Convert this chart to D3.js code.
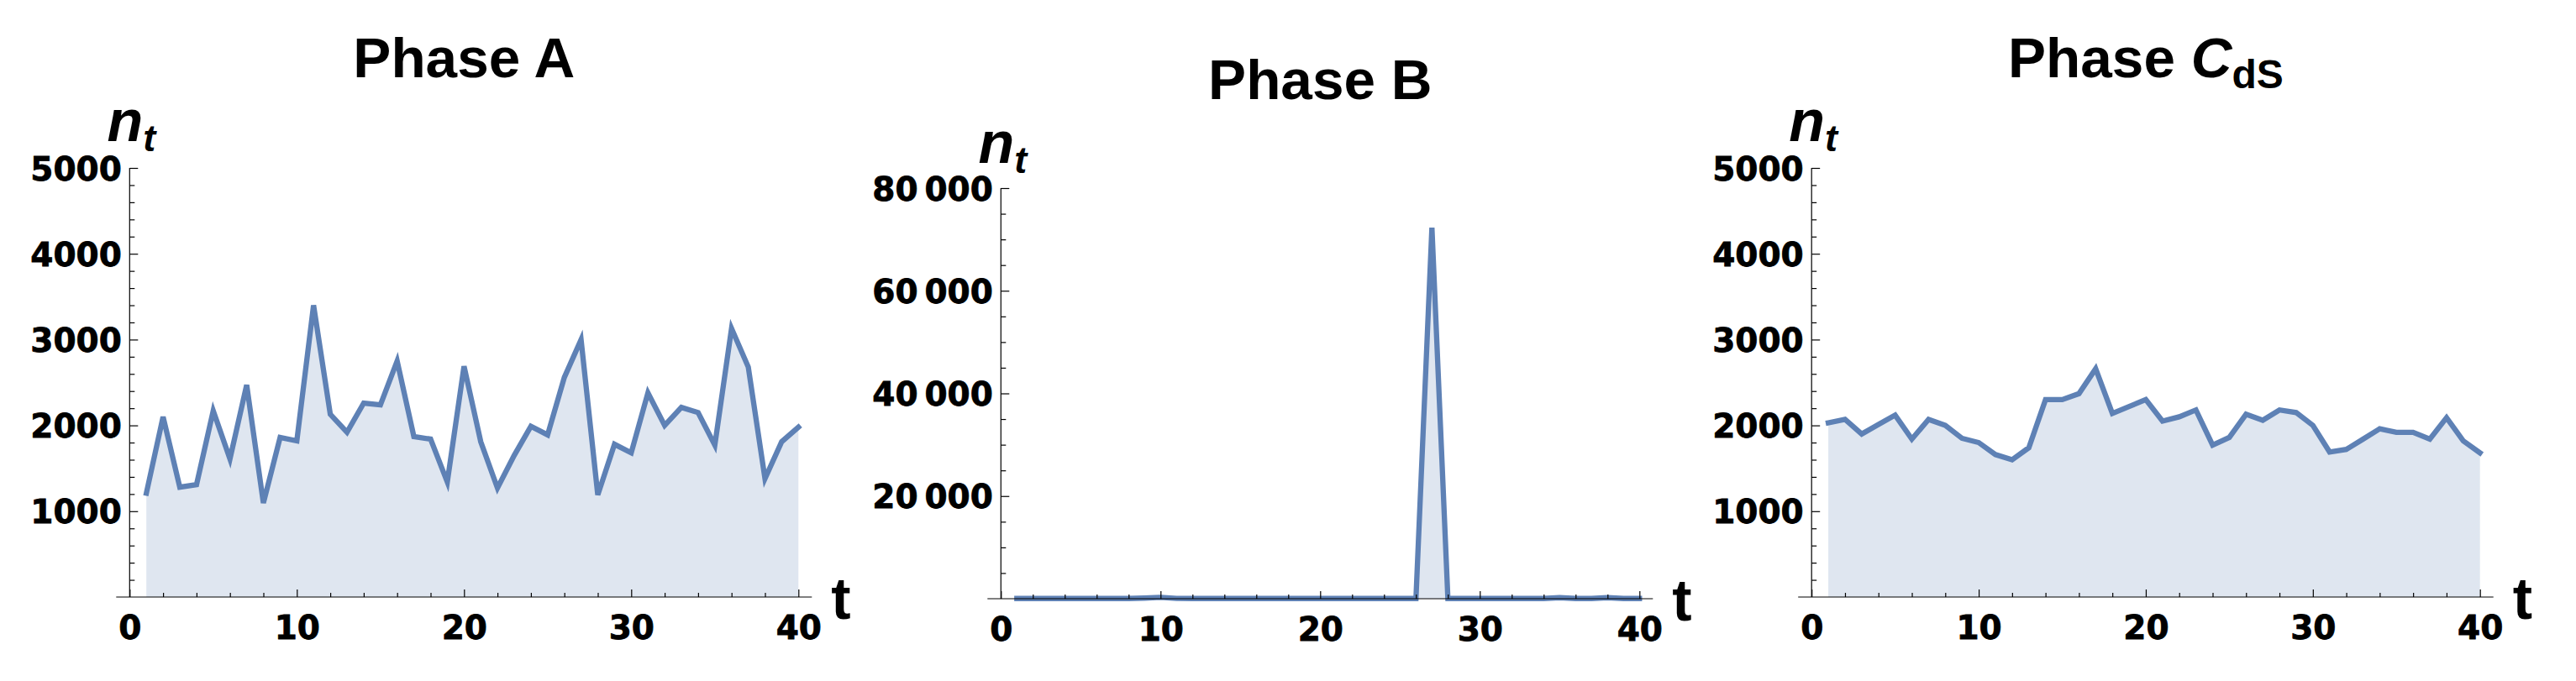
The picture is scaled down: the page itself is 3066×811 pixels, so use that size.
<!DOCTYPE html>
<html><head><meta charset="utf-8">
<script src="https://cdn.jsdelivr.net/npm/d3@7"></script>
<style>body{margin:0;background:#fff}svg{display:block}</style>
</head><body>
<svg id="c" width="3066" height="811"></svg>
<script>
// ---- data ----
const tValues = [1,2,3,4,5,6,7,8,9,10,11,12,13,14,15,16,17,18,19,20,21,22,23,24,25,26,27,28,29,30,31,32,33,34,35,36,37,38,39,40];
const phaseA = [1210,2100,1280,1310,2170,1610,2470,1095,1860,1820,3400,2130,1920,2260,2240,2750,1870,1840,1340,2690,1810,1270,1650,1990,1890,2560,3000,1190,1780,1680,2380,2000,2210,2150,1770,3130,2680,1380,1810,1980];
const phaseB = [40,40,40,40,40,40,40,40,120,260,60,40,40,40,40,40,40,40,40,40,40,40,40,40,40,40,72300,40,40,40,40,40,40,40,200,40,40,200,40,40];
const phaseC = [2030,2070,1900,2010,2120,1840,2070,2000,1850,1800,1660,1600,1740,2300,2300,2370,2660,2140,2220,2300,2050,2100,2180,1770,1860,2130,2060,2180,2150,2000,1690,1720,1840,1960,1920,1920,1840,2090,1820,1680];
const xTicks = [0,10,20,30,40];
const xTickLabels = ["0","10","20","30","40"];
const xMinorTicks = [2,4,6,8,12,14,16,18,22,24,26,28,32,34,36,38];
const yTicksAC = [1000,2000,3000,4000,5000];
const yTickLabelsAC = ["1000","2000","3000","4000","5000"];
const yTicksB = [20000,40000,60000,80000];
const yTickLabelsB = ["20\u2009000","40\u2009000","60\u2009000","80\u2009000"];
const titleText = ["Phase A","Phase B","Phase C"];

// ---- layout / style ----
const LINE = "#5e81b5", FILL = "#dfe6f0";
const TICKFONT = "'DejaVu Sans', sans-serif";
const LABFONT = "'Liberation Sans', Arial, sans-serif";

function yMinors(max, step, majors){
  const out=[]; for(let v=step; v<max+1e-9; v+=step){ if(!majors.includes(Math.round(v))) out.push(Math.round(v)); } return out;
}

const panels = [
  {data: phaseA, left:154.3, right:950.3, top:200, bottom:711, yMax:5000, yTicks:yTicksAC, yLabels:yTickLabelsAC, minorStep:200, title:0, titleY:92, ntY:168},
  {data: phaseB, left:1191.3, right:1951.3, top:224, bottom:713, yMax:80000, yTicks:yTicksB, yLabels:yTickLabelsB, minorStep:5000, title:1, titleY:118, ntY:194},
  {data: phaseC, left:2156.2, right:2951.7, top:200, bottom:711, yMax:5000, yTicks:yTicksAC, yLabels:yTickLabelsAC, minorStep:200, title:2, titleY:92, ntY:168}
];

const svg = d3.select("#c");
svg.append("rect").attr("width",3066).attr("height",811).attr("fill","#fff");

panels.forEach((p,i)=>{
  const x = d3.scaleLinear().domain([0,40]).range([p.left,p.right]);
  const y = d3.scaleLinear().domain([0,p.yMax]).range([p.bottom,p.top]);
  const g = svg.append("g");
  const pts = tValues.map((t,k)=>[t,p.data[k]]);

  // fill
  g.append("path").datum(pts)
    .attr("d", d3.area().x(d=>x(d[0])).y0(y(0)).y1(d=>y(d[1])))
    .attr("fill", FILL);
  // line
  g.append("path").datum(pts)
    .attr("d", d3.line().x(d=>x(d[0])).y(d=>y(d[1])))
    .attr("fill","none").attr("stroke",LINE).attr("stroke-width",6.3)
    .attr("stroke-linejoin","miter").attr("stroke-linecap","square");

  // axes lines
  g.append("line").attr("x1",p.left-16).attr("x2",p.right+16).attr("y1",y(0)).attr("y2",y(0))
    .attr("stroke","#000").attr("stroke-width",1.2);
  g.append("line").attr("x1",p.left).attr("x2",p.left).attr("y1",y(0)).attr("y2",y(p.yMax))
    .attr("stroke","#000").attr("stroke-width",1.2);

  // x axis major
  const xa = g.append("g").attr("transform",`translate(0,${y(0)})`)
    .call(d3.axisBottom(x).tickValues(xTicks).tickFormat((d,k)=>xTickLabels[k]).tickSizeInner(-9).tickSizeOuter(0).tickPadding(39));
  // x axis minor
  const xm = g.append("g").attr("transform",`translate(0,${y(0)})`)
    .call(d3.axisBottom(x).tickValues(xMinorTicks).tickFormat("").tickSizeInner(-5).tickSizeOuter(0));
  // y axis major
  const ya = g.append("g").attr("transform",`translate(${p.left},0)`)
    .call(d3.axisLeft(y).tickValues(p.yTicks).tickFormat((d,k)=>p.yLabels[k]).tickSizeInner(-10).tickSizeOuter(0).tickPadding(9.5));
  const ym = g.append("g").attr("transform",`translate(${p.left},0)`)
    .call(d3.axisLeft(y).tickValues(yMinors(p.yMax,p.minorStep,p.yTicks)).tickFormat("").tickSizeInner(-6).tickSizeOuter(0));
  [xa,xm,ya,ym].forEach(a=>{
    a.select(".domain").remove();
    a.selectAll(".tick line").attr("stroke","#000").attr("stroke-width",1.2);
    a.selectAll(".tick text").attr("fill","#000").attr("font-family",TICKFONT)
      .attr("font-weight","bold").attr("font-size",39)
      .attr("stroke","#000").attr("stroke-width",0.8);
  });
  xa.selectAll(".tick text").attr("dy",null).attr("y",50).attr("dominant-baseline",null);
  ya.selectAll(".tick text").attr("dy","0.36em");

  // axis labels
  const nt = g.append("text").attr("x",p.left+2).attr("y",p.ntY).attr("text-anchor","middle")
    .attr("font-family",LABFONT).attr("font-weight","bold").attr("font-style","italic").attr("fill","#000");
  nt.append("tspan").attr("font-size",70).text("n");
  nt.append("tspan").attr("font-size",45).attr("dy",12).text("t");
  g.append("text").attr("x",p.right+39).attr("y",y(0)+26).attr("font-family",LABFONT)
    .attr("font-weight","bold").attr("font-size",70).attr("fill","#000").text("t");

  // title
  const tt = g.append("text").attr("x",(p.left+p.right)/2).attr("y",p.titleY).attr("text-anchor","middle")
    .attr("font-family",LABFONT).attr("font-weight","bold").attr("font-size",67.5).attr("fill","#000");
  if(i===2){
    tt.append("tspan").text("Phase ");
    tt.append("tspan").attr("font-style","italic").text("C");
    tt.append("tspan").attr("font-size",48).attr("dy",13).text("dS");
  } else {
    tt.text(titleText[p.title]);
  }
});
</script>
</body></html>
